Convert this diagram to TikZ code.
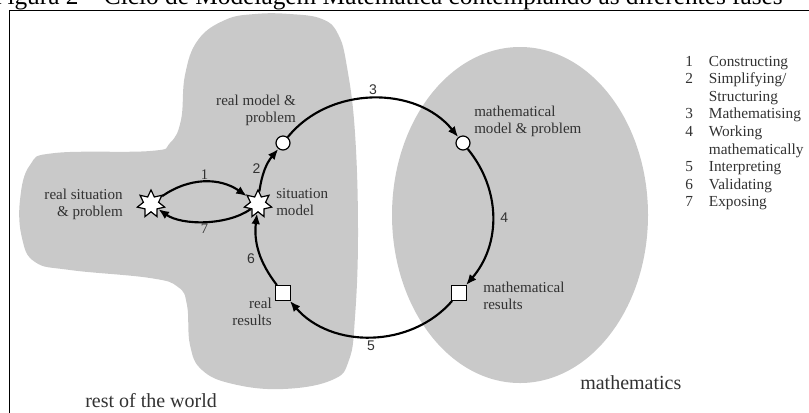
\documentclass[tikz,border=0pt]{standalone}
\usepackage{fontspec}
\setmainfont{Liberation Serif}
\setsansfont{Liberation Sans}
\usetikzlibrary{arrows.meta,positioning,shapes.geometric,calc}
\definecolor{blobgray}{RGB}{201,201,201}
\definecolor{inkgray}{RGB}{50,50,50}
\tikzset{
  starnode/.style={star, star points=7, star point ratio=1.8, minimum size=21pt, draw, fill=white, line width=0.9pt, inner sep=0pt},
  circnode/.style={circle, draw, fill=white, line width=0.9pt, minimum size=10.5pt, inner sep=0pt},
  sqnode/.style={rectangle, draw, fill=white, line width=0.9pt, minimum size=11pt, inner sep=0pt},
  lbl/.style={inner sep=0pt, text=inkgray, font=\fontsize{11.3}{12.8}\selectfont},
  region/.style={inner sep=0pt, text=inkgray, font=\fontsize{15}{17}\selectfont},
  num/.style={inner sep=1pt, text=inkgray, font=\sffamily\fontsize{10.5}{12}\selectfont},
  numser/.style={inner sep=1pt, text=inkgray, font=\fontsize{11}{12}\selectfont},
  arr/.style={-{Latex[length=8pt,width=6.5pt]}, line width=1.6pt}
}

\begin{document}
\begin{tikzpicture}[x=0.75pt, y=-0.75pt]
\useasboundingbox (0,0) rectangle (809,412);
\clip (0,0) rectangle (809,412);
% caption line, cut by the top edge
\node[anchor=base east, inner sep=0pt, font=\fontsize{19}{22}\selectfont] (title) at (783,4.5) {Figura 2 – Ciclo de Modelagem Matemática contemplando as diferentes fases};
\draw[line width=1.4pt] (9.5,10.5) rectangle (830,440);
% the two worlds
\fill[blobgray] plot[smooth cycle, tension=0.7] coordinates {(290,14) (322,19) (338,34) (347,67) (355,133) (358,233) (355,317) (349,360) (332,380) (283,389) (233,384) (202,370) (190,345) (187,305) (178,287) (150,278) (70,270) (35,262) (22,238) (20,200) (30,165) (55,153) (150,151) (170,143) (181,120) (185,75) (198,40) (225,20) (255,14)};
\fill[blobgray] (520,215) ellipse[x radius=128, y radius=168];
\node[region, anchor=west] (world) at (85,401) {rest of the world};
\node[region, anchor=west] (maths) at (580,383) {mathematics};

% stations of the cycle
\node[starnode] (rsit) at (151,204) {};
\node[starnode] (smod) at (258,204) {};
\node[circnode] (rmod) at (283,143) {};
\node[circnode] (mmod) at (463,143) {};
\node[sqnode] (mres) at (459,293) {};
\node[sqnode] (rres) at (283,293) {};

\node[lbl, align=right, anchor=east] (rsitlbl) at (123,204) {real situation\\\& problem};
\node[lbl, align=left, anchor=west] (smodlbl) at (276,202) {situation\\model};
\node[lbl, align=right, anchor=east] (rmodlbl) at (296,110) {real model \&\\problem};
\node[lbl, align=left, anchor=west] (mmodlbl) at (474,121) {mathematical\\model \& problem};
\node[lbl, align=left, anchor=west] (mreslbl) at (483,296) {mathematical\\results};
\node[lbl, align=right, anchor=east] (rreslbl) at (272,312) {real\\results};

% steps
\draw[arr] (rmod) to[bend left=51] node[num, above=1pt] {3} (mmod);
\draw[arr] (mmod) to[bend left=40] node[num, right=4pt] {4} (mres);
\draw[arr] (mres) to[bend left=49] node[num, below=1pt] {5} (rres);
\draw[arr] (rres) to[bend left=22] node[num, left=3pt, pos=0.4] {6} (smod);
\draw[arr] (smod) to[bend left=16] node[num, left=2pt] {2} (rmod);
\draw[arr] (rsit) to[out=35, in=145] node[numser, above] {1} (smod);
\draw[arr] (smod) to[out=-145, in=-35, looseness=0.8] node[numser, below] {7} (rsit);

% legend
\node[anchor=base west, inner sep=0pt, text=inkgray, font=\fontsize{11.5}{13.2}\selectfont] (legend) at (685,66) {\begin{tabular}[t]{@{}l@{\hspace{12pt}}l@{}}
1 & Constructing\\
2 & Simplifying/\\
  & Structuring\\
3 & Mathematising\\
4 & Working\\
  & mathematically\\
5 & Interpreting\\
6 & Validating\\
7 & Exposing
\end{tabular}};
\end{tikzpicture}
\end{document}
